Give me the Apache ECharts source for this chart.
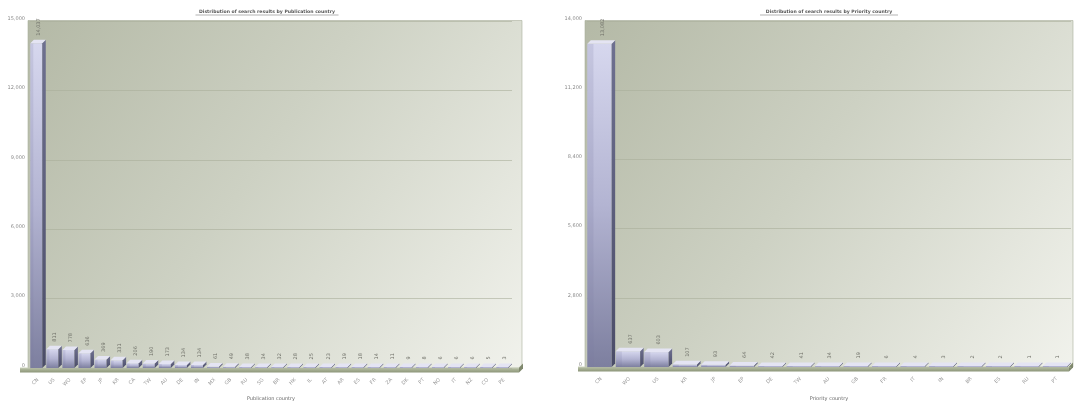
<!DOCTYPE html>
<html>
<head>
<meta charset="utf-8">
<script src="https://cdn.jsdelivr.net/npm/echarts@6/dist/echarts.min.js"></script>
<style>
  html,body{margin:0;padding:0;background:#fff;}
  #c{width:1076px;height:401px;}
</style>
</head>
<body>
<div id="c"></div>
<script>
// ---------- data ----------
const pubTitle = 'Distribution of search results by Publication country';
const pubAxisName = 'Publication country';
const pubCountries = ['CN','US','WO','EP','JP','KR','CA','TW','AU','DE','IN','MX','GB','RU','SG','BR','HK','IL','AT','AR','ES','FR','ZA','DK','PT','NO','IT','NZ','CO','PE'];
const pubValues = [14037,811,778,636,369,331,206,190,173,134,134,61,49,38,34,32,28,25,23,19,18,14,11,9,8,6,6,6,5,3];
const pubYMax = 15000;
const pubYInterval = 3000;

const prioTitle = 'Distribution of search results by Priority country';
const prioAxisName = 'Priority country';
const prioCountries = ['CN','WO','US','KR','JP','EP','DE','TW','AU','GB','FR','IT','IN','BR','ES','RU','PT'];
const prioValues = [13082,637,603,107,93,64,42,41,34,19,6,4,3,2,2,1,1];
const prioYMax = 14000;
const prioYInterval = 2800;

// ---------- chart ----------
const chart = echarts.init(document.getElementById('c'), null, {renderer:'canvas'});
const FONT = 'DejaVu Sans, Verdana, sans-serif';
const fmt = v => Number(v).toLocaleString('en-US');

function render3D(depth){
  return function(params, api){
    const v = api.value(1);
    const p0 = api.coord([api.value(0), 0]);
    const p1 = api.coord([api.value(0), v]);
    const cw = api.size([1, 0])[0];
    const fw = cw - depth - 0.6;
    const x0 = p0[0] - cw / 2 + 0.3;
    const yb = p0[1];
    let yt = p1[1];
    if (yb - yt < 1) yt = yb - 1;
    const G = echarts.graphic;
    return {
      type: 'group',
      children: [
        { type: 'rect', shape: {x: x0, y: yt, width: fw, height: yb - yt},
          style: {fill: new G.LinearGradient(0,0,0,1,[
            {offset:0, color:'#d6d7ee'},{offset:0.5,color:'#b3b4d2'},{offset:1,color:'#7d7f9f'}])} },
        { type: 'rect', shape: {x: x0, y: yt, width: fw*0.25, height: yb - yt},
          style: {fill:'rgba(120,122,160,0.18)'} },
        { type: 'polygon', shape: {points: [[x0+fw, yt],[x0+fw+depth, yt-depth],[x0+fw+depth, yb-depth],[x0+fw, yb]]},
          style: {fill: new G.LinearGradient(0,0,0,1,[{offset:0,color:'#6e7090'},{offset:1,color:'#4b4d68'}])} },
        { type: 'polygon', shape: {points: [[x0, yt],[x0+fw, yt],[x0+fw+depth, yt-depth],[x0+depth, yt-depth]]},
          style: {fill:'#e4e4f3'} },
        { type: 'text', x: x0 + fw/2 + depth/2 + 1, y: yt - depth - 4, rotation: Math.PI/2,
          style: {text: fmt(v), font: '5px ' + FONT, fill: '#6f7068', align: 'left', verticalAlign: 'middle'} }
      ]
    };
  };
}

function wall(x, y, w, h){
  return { type:'rect', z:-10, shape:{x:x, y:y, width:w, height:h},
    style:{fill: new echarts.graphic.LinearGradient(0,0,1,1,[
      {offset:0,color:'#b4b9a6'},{offset:0.45,color:'#cdd1c3'},{offset:1,color:'#f1f2ec'}]),
      stroke:'#a9ae9c', lineWidth:0.6} };
}
function floor(x1, x2, y){
  return [
    { type:'rect', z:5, shape:{x:x1, y:y, width:x2-x1, height:5},
      style:{fill: new echarts.graphic.LinearGradient(0,0,0,1,[
        {offset:0,color:'#cdd3bf'},{offset:0.4,color:'#a9b296'},{offset:1,color:'#8c9579'}])} },
    { type:'polygon', z:5, shape:{points:[[x2,y],[x2+4,y-4],[x2+4,y+1],[x2,y+5]]},
      style:{fill:'#7f886d'} }
  ];
}
function titleEls(text, cx, y, w){
  return [
    { type:'text', x:cx, y:y, style:{text:text, font:'bold 4.6px ' + FONT, fill:'#555', align:'center', verticalAlign:'middle'} },
    { type:'line', shape:{x1:cx-w/2, y1:y+3, x2:cx+w/2, y2:y+3}, style:{stroke:'#666', lineWidth:0.5} }
  ];
}

const axisLabelY = {fontSize:5, color:'#8a8a8a', fontFamily:FONT, margin:5, formatter: v => fmt(v)};
const axisLabelX = {fontSize:5, color:'#9a9a9a', fontFamily:FONT, rotate:45, margin:11, interval:0};

chart.setOption({
  animation:false,
  backgroundColor:'#ffffff',
  grid:[
    {left:30, top:21, width:482, height:347, outerBoundsMode:'none', containLabel:false},
    {left:587, top:21, width:484, height:346, outerBoundsMode:'none', containLabel:false}
  ],
  xAxis:[
    {type:'category', gridIndex:0, data:pubCountries, axisLine:{show:false}, axisTick:{show:false},
     axisLabel:axisLabelX, name:pubAxisName, nameLocation:'middle', nameGap:28,
     nameTextStyle:{fontSize:5, color:'#666', fontFamily:FONT}},
    {type:'category', gridIndex:1, data:prioCountries, axisLine:{show:false}, axisTick:{show:false},
     axisLabel:axisLabelX, name:prioAxisName, nameLocation:'middle', nameGap:29,
     nameTextStyle:{fontSize:5, color:'#666', fontFamily:FONT}}
  ],
  yAxis:[
    {type:'value', gridIndex:0, min:0, max:pubYMax, interval:pubYInterval, z:6,
     axisLine:{show:false}, axisTick:{show:false}, axisLabel:{...axisLabelY, verticalAlign:'bottom'},
     splitLine:{lineStyle:{color:'#a9ae9a', width:0.6}}},
    {type:'value', gridIndex:1, min:0, max:prioYMax, interval:prioYInterval, z:6,
     axisLine:{show:false}, axisTick:{show:false}, axisLabel:{...axisLabelY, verticalAlign:'bottom'},
     splitLine:{lineStyle:{color:'#a9ae9a', width:0.6}}}
  ],
  graphic:[
    wall(28, 20.5, 494, 347.5),
    wall(585, 20.5, 488, 346.5),
    ...floor(20, 519, 367.5),
    ...floor(578, 1069, 366.5),
    ...titleEls(pubTitle, 267, 12, 143),
    ...titleEls(prioTitle, 829, 12, 138)
  ],
  series:[
    {type:'custom', xAxisIndex:0, yAxisIndex:0, z:10, renderItem:render3D(3.5),
     data: pubValues.map((v,i)=>[i,v]), encode:{x:0,y:1}},
    {type:'custom', xAxisIndex:1, yAxisIndex:1, z:10, renderItem:render3D(3.5),
     data: prioValues.map((v,i)=>[i,v]), encode:{x:0,y:1}}
  ]
});
</script>
</body>
</html>
